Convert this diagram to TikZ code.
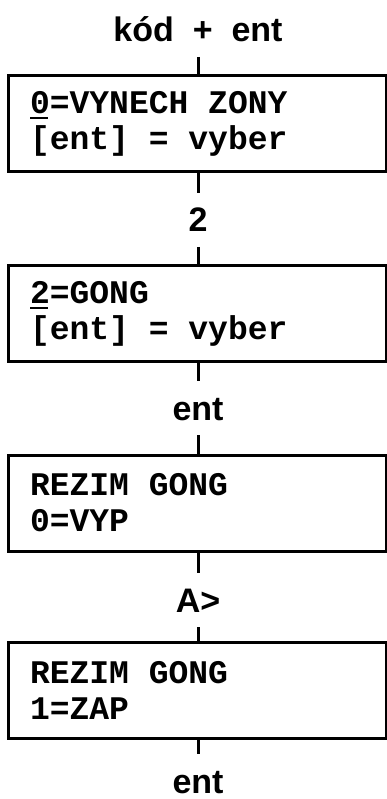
\documentclass[tikz,border=0pt]{standalone}
\usepackage{fontspec}
\setmainfont{Liberation Sans}
\newfontfamily\lcdfont{Liberation Mono}
% display font, one fixed cell per character
\newcommand{\lcdtext}{\lcdfont\bfseries\fontsize{33}{36}\selectfont}
\newcommand{\cell}{\hspace{0.6em}}
% underlined cursor digit
\newcommand{\keyul}[1]{\setbox0\hbox{#1}\rlap{\rule[-6pt]{\dimexpr\wd0-2pt\relax}{2.5pt}}\box0}

\begin{document}
\begin{tikzpicture}[x=1pt, y=-1pt,
    lcd/.style={draw, rectangle, line width=3pt, minimum width=378pt, minimum height=96pt,
        text width=334pt, inner xsep=22pt, inner ysep=0pt, align=left, font=\lcdtext},
    keylbl/.style={inner sep=0pt, text height=24pt, text depth=0pt, outer ysep=15pt,
        font=\bfseries\fontsize{34}{36}\selectfont},
    wire/.style={line width=3pt}]
    %--------------------%
    % Parameters
    %--------------------%
    \def\xc{198}
    \useasboundingbox (0,0) rectangle (387,799);

    %--------------------%
    % Keys
    %--------------------%
    \node[keylbl] (kod) at (\xc,30) {kód\ \ +\ \ ent};
    \node[keylbl] (dva) at (\xc,220) {2};
    \node[keylbl] (ent1) at (\xc,408) {ent};
    \node[keylbl] (sipka) at (\xc,600) {A>};
    \node[keylbl] (ent2) at (\xc,781) {ent};

    %--------------------%
    % Display
    %--------------------%
    \node[lcd] (zony) at (\xc-1,123.5) {\keyul{0}=VYNECH\cell ZONY\\{[ent]\cell=\cell vyber}};
    \node[lcd] (gong) at (\xc-1,313.5) {\keyul{2}=GONG\\{[ent]\cell=\cell vyber}};
    \node[lcd] (vyp) at (\xc-1,503) {REZIM\cell GONG\\0=VYP};
    \node[lcd] (zap) at (\xc-1,690.5) {REZIM\cell GONG\\1=ZAP};

    %--------------------%
    % Connections
    %--------------------%
    \draw[wire] (kod) -- (kod |- zony.north);
    \draw[wire] (kod |- zony.south) -- (dva);
    \draw[wire] (dva) -- (dva |- gong.north);
    \draw[wire] (dva |- gong.south) -- (ent1);
    \draw[wire] (ent1) -- (ent1 |- vyp.north);
    \draw[wire] (ent1 |- vyp.south) -- (sipka);
    \draw[wire] (sipka) -- (sipka |- zap.north);
    \draw[wire] (sipka |- zap.south) -- (ent2);

\end{tikzpicture}
\end{document}
